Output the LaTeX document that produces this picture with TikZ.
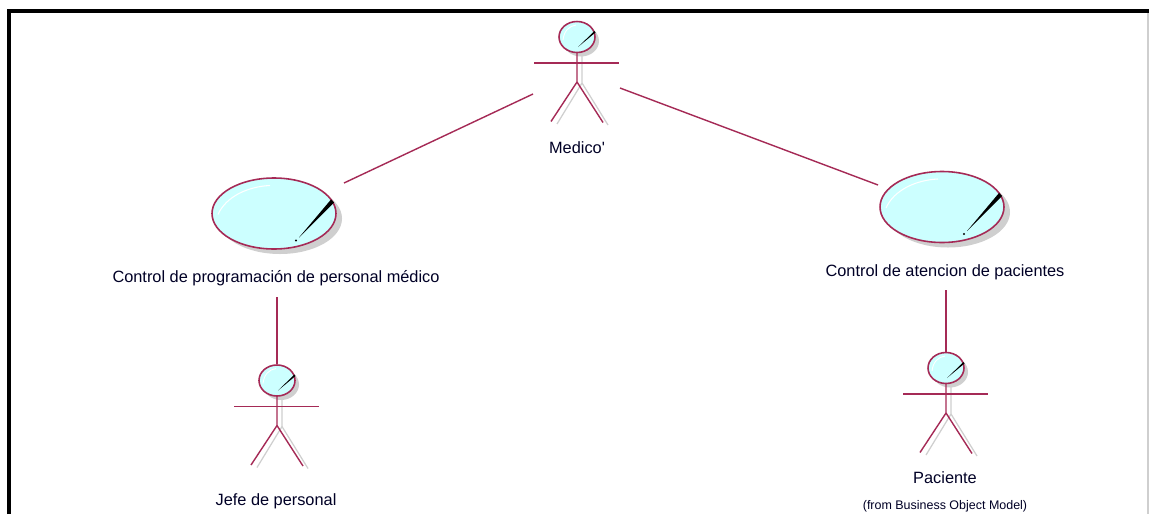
\documentclass[tikz,border=0pt]{standalone}
\usepackage{fontspec}
\setmainfont{Liberation Sans}
\usetikzlibrary{shapes.geometric}
\definecolor{rosa}{HTML}{A52A56}
\definecolor{celeste}{HTML}{CCFFFF}
\definecolor{sombra}{HTML}{CFCFCF}
\tikzset{
	linea/.style={draw=rosa,line width=0.8pt},
	lineagris/.style={draw=sombra,line width=0.7pt},
	cabeza/.style={ellipse,draw=rosa,line width=0.9pt,fill=celeste,inner sep=0pt,minimum width=0.72cm,minimum height=0.62cm},
	casouso/.style={ellipse,draw=rosa,line width=0.9pt,fill=celeste,inner sep=0pt,minimum width=2.48cm,minimum height=1.42cm},
	etiqueta/.style={font=\fontsize{9.3}{11}\selectfont,text=black!85!blue},
	nota/.style={font=\fontsize{7.1}{9}\selectfont,text=black!85!blue}
}
% actor: nombre, x y de la cabeza
\newcommand{\actor}[3]{
	\begin{scope}[shift={(#2,#3)}]
		\draw[lineagris] (5,15)--(5,46)--(-20,87);
		\draw[lineagris] (5,46)--(31,88);
		\fill[sombra] (4,4) ellipse[x radius=18,y radius=15.5];
		\node[cabeza] (#1) at (0,0) {};
		\draw[white,line width=0.5pt] (-14,3) .. controls (-13,-6) and (-8,-11) .. (-1,-12);
		\fill[black] (17.5,-6)--(18.5,-4.5)--(1,10)--cycle;
		\draw[linea] (-43,26)--(42,26);
		\draw[linea] (0,15.5)--(0,45)--(-26,84.5);
		\draw[linea] (0,45)--(26,85.5);
	\end{scope}
}
% caso de uso: nombre, x y del centro
\newcommand{\casodeuso}[3]{
	\begin{scope}[shift={(#2,#3)}]
		\fill[sombra] (6,5) ellipse[x radius=62,y radius=35.5];
		\node[casouso] (#1) at (0,0) {};
		\draw[white,line width=0.6pt] (-56,1) .. controls (-48,-17) and (-26,-27) .. (-4,-28);
		\fill[black] (57,-14)--(60,-11)--(25,24)--cycle;
		\fill[black] (22,27) circle(0.6pt);
	\end{scope}
}
\begin{document}
\begin{tikzpicture}[x=0.02cm,y=-0.02cm]
	\useasboundingbox (0,0) rectangle (1149,514);
	\fill[white] (0,0) rectangle (1149,514);
	\draw[black,line width=0.08cm] (9,514)--(9,11)--(1149,11);
	\draw[sombra,line width=0.04cm] (1148,13)--(1148,514);

	\actor{medico}{577}{37}
	\actor{jefe}{277}{380.5}
	\actor{paciente}{946}{368}
	\casodeuso{programacion}{274}{213.5}
	\casodeuso{atencion}{942}{207}

	\node[etiqueta] (lblmedico) at (577,148) {Medico\textquotesingle};
	\node[etiqueta] (lblprogramacion) at (276,278) {Control de programación de personal médico};
	\node[etiqueta] (lblatencion) at (945,272) {Control de atencion de pacientes};
	\node[etiqueta] (lbljefe) at (276,501) {Jefe de personal};
	\node[etiqueta] (lblpaciente) at (945,478) {Paciente};
	\node[nota] (lblfrom) at (945,506) {(from Business Object Model)};

	\coordinate (medicoizq) at (533,94);
	\coordinate (medicoder) at (620,88);
	\coordinate (programacionfin) at (344,183);
	\coordinate (atencionfin) at (878,185);
	\coordinate (programacionbajo) at (277,297);
	\coordinate (atencionbajo) at (946,290);
	\draw[linea] (medicoizq)--(programacionfin);
	\draw[linea] (medicoder)--(atencionfin);
	\draw[linea] (programacionbajo)--(jefe);
	\draw[linea] (atencionbajo)--(paciente);
\end{tikzpicture}
\end{document}
